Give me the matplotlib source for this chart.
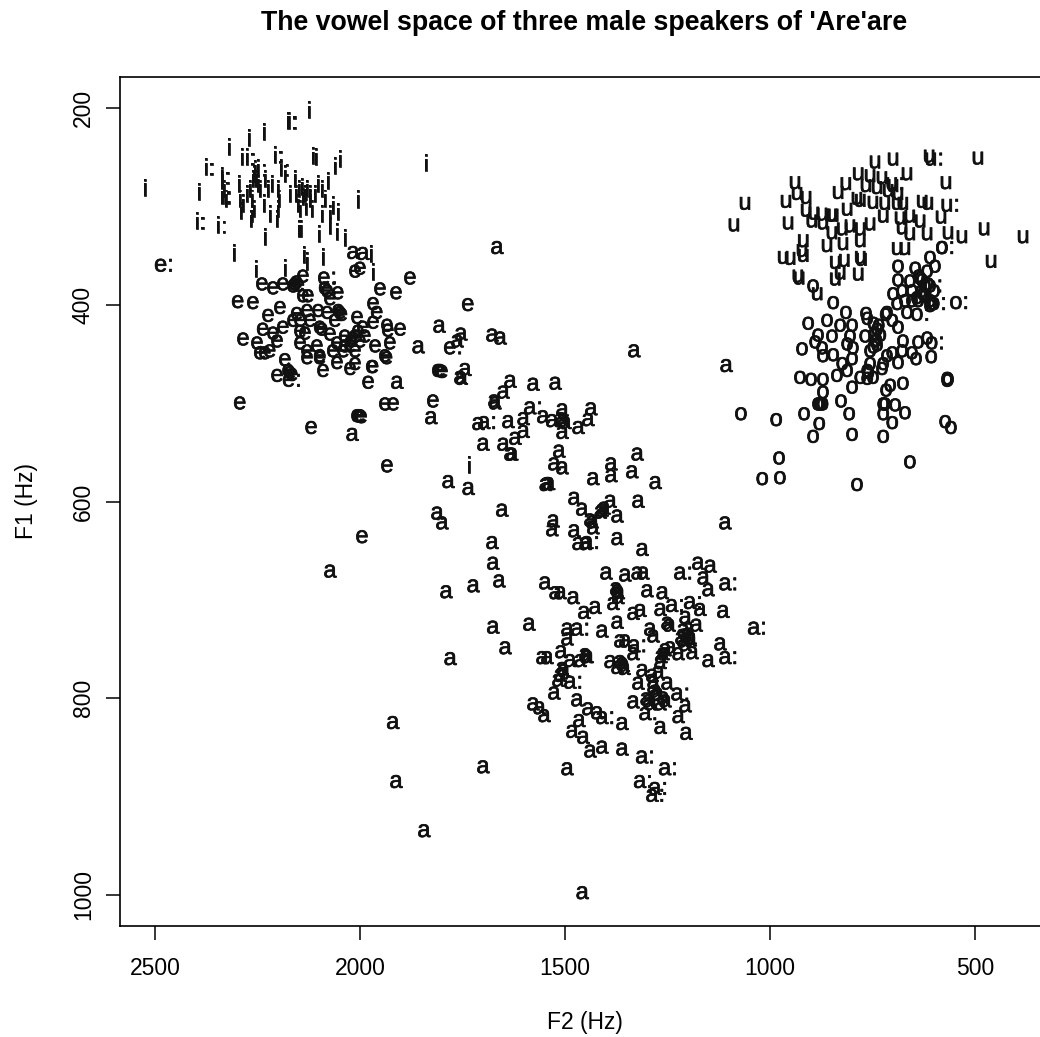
import matplotlib
matplotlib.use('Agg')
import matplotlib.pyplot as plt
import matplotlib.patheffects as pe

# formant values (Hz), one pair of lists per vowel
i_f2 = [2124, 2234, 2271, 2319, 2288, 2115, 2107, 2049, 2061, 1839, 2524, 2393, 2078, 2005, 2232, 2307,
        2100, 2073, 2056, 2037, 2054, 2066, 2149, 2144, 2090, 2137, 2129, 2254, 2183, 1973, 1968, 1734,
        2337, 2332, 2327, 2295, 2293, 2290, 2285, 2276, 2268, 2263, 2259, 2263, 2266, 2256, 2259, 2254,
        2249, 2261, 2244, 2232, 2224, 2215, 2200, 2234, 2220, 2202, 2198, 2200, 2183, 2159, 2171, 2156,
        2151, 2149, 2141, 2134, 2129, 2122, 2146, 2139, 2132, 2122, 2117, 2110, 2102, 2093, 2093, 2085, 2073]
i_f1 = [203, 225, 231, 241, 251, 250, 251, 253, 260, 257, 282, 286, 275, 294, 332, 348,
        329, 321, 327, 333, 307, 300, 324, 324, 352, 350, 357, 365, 364, 349, 368, 564,
        273, 283, 293, 278, 293, 306, 298, 288, 283, 293, 304, 309, 314, 263, 268, 273,
        278, 273, 283, 273, 283, 278, 283, 298, 309, 314, 293, 304, 268, 273, 288, 288,
        298, 283, 281, 288, 283, 288, 304, 291, 302, 293, 304, 288, 278, 283, 309, 293, 309]
ii_f2 = [2166, 2368, 2268, 2200, 2329, 2390, 2337, 2327, 2240, 2185]
ii_f1 = [214, 261, 251, 249, 270, 316, 320, 290, 262, 262]

e_f2 = [2298, 2261, 2239, 2212, 2188, 2159, 2155, 2163, 2150, 2139, 2127, 2195, 2224, 2237, 2212, 2188,
        2285, 2251, 2202, 2244, 2232, 2220, 2183, 2202, 2171, 2166, 2175, 2293, 2119, 1934, 2003, 2000,
        2007, 1997, 1939, 1919, 1822, 1980, 1971, 1969, 2090, 2056, 2024, 2012, 2129, 2098, 2154, 2129,
        2102, 2080, 2049, 2045, 2053, 2007, 2061, 2163, 2146, 2134, 2098, 2093, 2073, 2146, 2129, 2105,
        2098, 2066, 2041, 2056, 2037, 2017, 2022, 2012, 2000, 1993, 2012, 1968, 1963, 1927, 1934, 1932,
        1939, 1935, 1902, 1968, 1959, 1951, 1912, 1878, 1737, 1810, 1805, 1800, 2054, 2080, 2073, 2139,
        2012, 1995, 2000, 2037, 2024, 2005, 1988, 2122, 2146]
e_f1 = [396, 397, 378, 382, 378, 378, 376, 380, 379, 370, 390, 402, 410, 424, 428, 422,
        434, 438, 436, 448, 448, 446, 455, 471, 468, 470, 466, 499, 524, 563, 512, 512,
        512, 513, 500, 500, 497, 478, 462, 462, 466, 458, 464, 459, 453, 453, 408, 405,
        405, 407, 407, 409, 405, 412, 415, 415, 426, 428, 422, 424, 429, 438, 446, 441,
        451, 446, 446, 438, 441, 433, 436, 431, 436, 422, 446, 417, 441, 438, 420, 425,
        451, 453, 424, 398, 407, 383, 387, 372, 399, 466, 466, 467, 387, 385, 393, 390,
        365, 635, 362, 431, 441, 426, 431, 415, 415]
ee_f2 = [2478, 2166, 1773, 2080, 2078]
ee_f1 = [359, 476, 443, 372, 382]

a_f2 = [1666, 1807, 1754, 1763, 1678, 1658, 1858, 1332, 1107, 1910, 1744, 1756, 1753, 1827, 1634, 1578,
        1524, 1651, 1671, 1673, 1712, 1639, 1602, 1554, 1532, 1507, 1505, 1500, 1510, 1507, 1468, 1444,
        1437, 1602, 1622, 1651, 1700, 1634, 1630, 1515, 1527, 1507, 1544, 1540, 1548, 1785, 1736, 1432,
        1388, 1388, 1337, 1324, 1280, 1478, 1459, 1654, 1812, 1800, 1529, 1532, 1478, 1390, 1322, 1410,
        1405, 1414, 1373, 1439, 1434, 1432, 1373, 1678, 1468, 1451, 1676, 1661, 1549, 1524, 1512, 1480,
        1400, 1354, 1324, 1310, 1176, 1146, 1163, 1151, 1312, 1115, 1676, 1588, 1646, 1495, 1410, 1373,
        1427, 1454, 1383, 1373, 1370, 1376, 1371, 1300, 1263, 1334, 1317, 1268, 1171, 1207, 1212, 1251,
        1246, 1180, 1293, 1285, 1200, 1205, 1195, 1212, 1207, 1217, 1195, 1122, 1151, 1190, 1224, 1261,
        1256, 1266, 1244, 1268, 1366, 1354, 1334, 1390, 1361, 1358, 1366, 1373, 1356, 1312, 1288, 1273,
        1322, 1285, 1251, 1334, 1297, 1292, 1302, 1280, 1275, 1285, 1261, 1256, 1268, 1207, 1224, 1268,
        1205, 1495, 1700, 1556, 1544, 1510, 1495, 1488, 1463, 1449, 1446, 1451, 1507, 1504, 1512, 1517,
        1527, 1471, 1578, 1563, 1551, 1444, 1422, 1466, 1361, 1483, 1456, 1439, 1410, 1361, 1920, 1912,
        1844, 1458, 2073, 2019, 1780, 1790, 1724, 1110, 2017, 1993]
a_f1 = [341, 421, 429, 436, 430, 433, 442, 446, 461, 478, 465, 473, 474, 514, 477, 480,
        479, 488, 499, 497, 520, 518, 515, 513, 517, 506, 517, 519, 515, 529, 524, 516,
        505, 528, 535, 541, 541, 551, 551, 548, 561, 565, 581, 581, 582, 579, 586, 576,
        561, 573, 569, 551, 580, 596, 607, 608, 611, 621, 619, 628, 629, 599, 599, 608,
        606, 610, 614, 618, 620, 626, 637, 641, 642, 642, 662, 680, 682, 692, 692, 697,
        672, 674, 672, 672, 662, 665, 677, 689, 648, 711, 727, 724, 748, 729, 731, 722,
        707, 712, 703, 690, 692, 688, 697, 690, 692, 713, 710, 709, 709, 717, 730, 723,
        725, 725, 729, 736, 729, 735, 740, 741, 745, 738, 738, 744, 761, 753, 754, 754,
        750, 757, 748, 763, 741, 741, 754, 762, 764, 766, 762, 768, 769, 771, 776, 773,
        784, 783, 784, 803, 802, 805, 800, 792, 795, 788, 799, 802, 805, 807, 818, 829,
        835, 871, 869, 758, 758, 752, 739, 761, 761, 757, 757, 755, 769, 771, 776, 781,
        794, 801, 805, 809, 817, 810, 814, 822, 825, 833, 839, 853, 849, 851, 824, 884,
        934, 997, 670, 531, 759, 691, 685, 621, 346, 347]
aa_f2 = [1690, 1578, 1439, 1463, 1212, 1102, 1032, 1102, 1324, 1232, 1188, 1219, 1297, 1305, 1249, 1310, 1273, 1280, 1480, 1402]
aa_f1 = [519, 504, 641, 729, 672, 683, 728, 758, 746, 705, 702, 795, 815, 859, 871, 884, 891, 898, 783, 819]

o_f2 = [846, 815, 907, 861, 829, 800, 805, 849, 883, 890, 873, 922, 871, 846, 812, 798,
        800, 824, 812, 837, 927, 900, 871, 871, 878, 872, 883, 827, 800, 780, 763, 749,
        727, 763, 760, 756, 724, 739, 735, 745, 731, 748, 741, 744, 748, 739, 756, 763,
        766, 768, 715, 718, 702, 688, 702, 678, 715, 676, 639, 617, 654, 644, 607, 688,
        707, 717, 676, 724, 720, 695, 671, 724, 702, 724, 800, 895, 880, 917, 807, 985,
        1071, 978, 976, 1019, 788, 659, 573, 559, 568, 568, 566, 688, 646, 617, 598, 610,
        581, 895, 688, 659, 634, 630, 638, 615, 700, 678, 654, 627, 622, 632, 610, 606,
        671, 690, 666, 642, 622, 639, 600, 610, 654]
o_f1 = [397, 407, 418, 415, 420, 420, 431, 431, 430, 437, 443, 444, 451, 450, 439, 443,
        454, 459, 466, 471, 473, 475, 475, 488, 500, 500, 500, 497, 483, 473, 474, 473,
        464, 466, 468, 459, 459, 424, 420, 428, 430, 418, 435, 436, 442, 440, 446, 413,
        408, 431, 407, 409, 415, 422, 448, 446, 451, 436, 437, 433, 448, 454, 452, 458,
        481, 486, 479, 500, 500, 501, 509, 510, 519, 533, 531, 533, 520, 510, 510, 516,
        510, 555, 575, 576, 582, 559, 518, 524, 474, 476, 475, 360, 362, 365, 360, 351,
        341, 380, 374, 375, 372, 374, 370, 378, 388, 385, 385, 388, 390, 386, 395, 398,
        395, 398, 407, 392, 380, 395, 385, 400, 395]
oo_f2 = [539, 598, 634, 573, 602, 593]
oo_f1 = [397, 438, 409, 341, 380, 398]

u_f2 = [1061, 1088, 961, 939, 934, 912, 912, 893, 873, 846, 850, 956, 898, 871, 849, 812,
        834, 815, 785, 744, 700, 612, 493, 756, 727, 666, 571, 766, 739, 712, 700, 688,
        788, 780, 749, 720, 690, 676, 629, 615, 583, 724, 683, 659, 634, 805, 824, 756,
        780, 566, 532, 478, 383, 461, 617, 659, 678, 919, 861, 822, 780, 922, 690, 671,
        968, 951, 919, 841, 819, 780, 777, 829, 841, 785, 932, 929, 885]
u_f1 = [296, 318, 294, 275, 286, 290, 303, 306, 307, 308, 308, 316, 314, 316, 326, 302,
        285, 276, 266, 254, 251, 248, 250, 268, 270, 266, 275, 278, 280, 283, 278, 286,
        291, 293, 295, 296, 296, 296, 294, 296, 310, 309, 311, 309, 314, 319, 322, 317,
        322, 326, 330, 322, 330, 355, 327, 327, 321, 334, 339, 337, 334, 344, 342, 342,
        351, 352, 349, 356, 354, 351, 353, 367, 373, 368, 370, 372, 388]
uu_f2 = [600, 561, 695]
uu_f1 = [251, 298, 276]

vowels = [('i', i_f2, i_f1), ('i:', ii_f2, ii_f1), ('e', e_f2, e_f1), ('e:', ee_f2, ee_f1),
          ('a', a_f2, a_f1), ('a:', aa_f2, aa_f1), ('o', o_f2, o_f1), ('o:', oo_f2, oo_f1),
          ('u', u_f2, u_f1), ('u:', uu_f2, uu_f1)]

plt.rcParams['font.family'] = ['Liberation Sans', 'DejaVu Sans']

W, H = 1040, 1037
fig = plt.figure(figsize=(W / 100, H / 100), dpi=100)
# right edge of the box is cut off by the picture
ax = fig.add_axes([120 / W, 1 - 926 / H, (1044 - 120) / W, (926 - 77) / H])
ax.set_xlim(2585, 332)
ax.set_ylim(1031.6, 168.3)

heavier = [pe.withStroke(linewidth=0.5, foreground='#111111')]
for label, f2, f1 in vowels:
    for x, y in zip(f2, f1):
        ax.text(x, y + 1, label, fontsize=17, ha='center', va='center', color='#111111',
                clip_on=True, path_effects=heavier)

for s in ax.spines.values():
    s.set_linewidth(1.2)
ax.set_xticks([2500, 2000, 1500, 1000, 500])
ax.set_yticks([200, 400, 600, 800, 1000])
ax.tick_params(axis='both', length=10, width=1.1, labelsize=16.5)
ax.tick_params(axis='x', pad=12)
ax.tick_params(axis='y', pad=8)
for t in ax.get_yticklabels():
    t.set_rotation(90)
    t.set_va('center')

fig.text(584.5 / W, 1 - 23 / H, "The vowel space of three male speakers of 'Are'are",
         ha='center', va='center', fontsize=19.3, fontweight='bold')
fig.text(585 / W, 1 - 1023 / H, 'F2 (Hz)', ha='center', va='center', fontsize=16.5)
fig.text(26 / W, 1 - 501 / H, 'F1 (Hz)', ha='center', va='center', rotation=90, fontsize=16.5)

fig.savefig('out.png', dpi=100)
